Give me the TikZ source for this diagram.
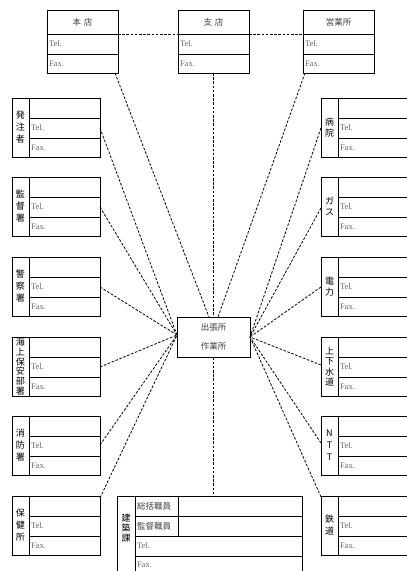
\documentclass[tikz,border=0pt]{standalone}
\usepackage{fontspec}
\setmainfont{Liberation Serif}
\newfontfamily\jp{Noto Sans CJK JP}
\usetikzlibrary{calc}
\tikzset{
  boxnode/.style={draw, line width=0.95pt, inner sep=0pt},
  rowline/.style={line width=0.95pt},
  conn/.style={line width=0.8pt, dash pattern=on 2.6pt off 1.6pt},
  telfax/.style={font=\fontsize{8.5}{9}\selectfont, text=black!60, anchor=west, inner sep=1.8pt},
  vlabel/.style={align=center, inner sep=0pt},
  jptext/.style={font=\jp\fontsize{8.5}{10}\selectfont, text=black!75, inner sep=0pt},
}
% #1 name, #2 x left, #3 y top, #4 label, #5 baselineskip, #6 local connection point
\newcommand\sidebox[6]{%
  \begin{scope}[shift={(#2,#3)}]
    \node[boxnode, minimum width=88pt, minimum height=59pt, anchor=north west] (#1) at (0,0) {};
    \draw[rowline] (17,0) -- (17,59) (17,20) -- (88,20) (17,40) -- (88,40);
    \node[vlabel, font=\jp\fontsize{9}{#5}\selectfont] (#1-l) at (8.5,29.5) {#4};
    \node[telfax] (#1-t) at (17,30) {Tel.};
    \node[telfax] (#1-f) at (17,50) {Fax.};
    \coordinate (#1-c) at #6;
  \end{scope}}
% #1 name, #2 x left, #3 title
\newcommand\topbox[3]{%
  \begin{scope}[shift={(#2,10)}]
    \node[boxnode, minimum width=71pt, minimum height=63pt, anchor=north west] (#1) at (0,0) {};
    \draw[rowline] (0,24) -- (71,24) (0,44) -- (71,44);
    \node[jptext] (#1-h) at (35.5,12) {#3};
    \node[telfax] (#1-t) at (0,34) {Tel.};
    \node[telfax] (#1-f) at (0,53.5) {Fax.};
    \coordinate (#1-l) at (0,24);
    \coordinate (#1-r) at (71,24);
  \end{scope}}
\begin{document}
\begin{tikzpicture}[x=1pt,y=-1pt]
\useasboundingbox[fill=white] (0,0) rectangle (407,571);

% top boxes
\topbox{honten}{47}{本\,\,店}
\topbox{shiten}{178}{支\,\,店}
\topbox{eigyo}{303}{営業所}
\coordinate (honten-c) at (115,73);
\coordinate (shiten-c) at (213.5,73);
\coordinate (eigyo-c) at (305,73);

% left boxes
\sidebox{hatchu}{12}{98}{発\\注\\者}{12}{(88,30)}
\sidebox{kantoku}{12}{177}{監\\督\\署}{12}{(88,30)}
\sidebox{keisatsu}{12}{257}{警\\察\\署}{12}{(88,30)}
\sidebox{kaijo}{12}{337}{海\\上\\保\\安\\部\\署}{9.8}{(88,30)}
\sidebox{shobo}{12}{416}{消\\防\\署}{12}{(88,29)}
\sidebox{hoken}{12}{496}{保\\健\\所}{12}{(88,2)}

% right boxes
\sidebox{byoin}{321}{98}{病\\院}{11}{(0,30)}
\sidebox{gas}{321}{177}{ガ\\ス}{11}{(0,31)}
\sidebox{denryoku}{321}{257}{電\\力}{11}{(0,30)}
\sidebox{suido}{321}{337}{上\\下\\水\\道}{10.5}{(0,28)}
\sidebox{ntt}{321}{416}{N\\T\\T}{12}{(0,27)}
\sidebox{tetsudo}{321}{496}{鉄\\道}{12}{(0,1)}

% centre box
\node[boxnode, minimum width=73pt, minimum height=40pt] (ctr) at (213.5,337) {};
\node[jptext] (ctr-a) at (213.5,327.5) {出張所};
\node[jptext] (ctr-b) at (213.5,346) {作業所};
\coordinate (ctr-n1) at (209,317);
\coordinate (ctr-n3) at (218,317);
\coordinate (ctr-w) at (177,335);
\coordinate (ctr-e) at (250,337);

% construction section box (open at the bottom)
\draw[rowline] (117,576) -- (117,496) -- (302,496) -- (302,576);
\draw[rowline] (135,496) -- (135,576)
  (135,516) -- (302,516) (135,536) -- (302,536) (135,556) -- (302,556)
  (178,496) -- (178,536);
\node[vlabel, font=\jp\fontsize{9}{10}\selectfont] (ken-l) at (126,528) {建\\築\\課};
\node[jptext, anchor=west] (ken-1) at (137,506) {総括職員};
\node[jptext, anchor=west] (ken-2) at (137,526) {監督職員};
\node[telfax] (ken-t) at (135,546) {Tel.};
\node[telfax] (ken-f) at (135,565) {Fax.};
\coordinate (ken-c) at (213.5,496);

% connectors
\draw[conn] (honten-r) -- (shiten-l);
\draw[conn] (shiten-r) -- (eigyo-l);
\draw[conn] (honten-c) -- (ctr-n1);
\draw[conn] (shiten-c) -- (ctr.north);
\draw[conn] (eigyo-c) -- (ctr-n3);
\foreach \n in {hatchu,kantoku,keisatsu,kaijo,shobo,hoken}
  \draw[conn] (\n-c) -- (ctr-w);
\foreach \n in {byoin,gas,denryoku,suido,ntt,tetsudo}
  \draw[conn] (\n-c) -- (ctr-e);
\draw[conn] (ctr.south) -- (ken-c);
\end{tikzpicture}
\end{document}
